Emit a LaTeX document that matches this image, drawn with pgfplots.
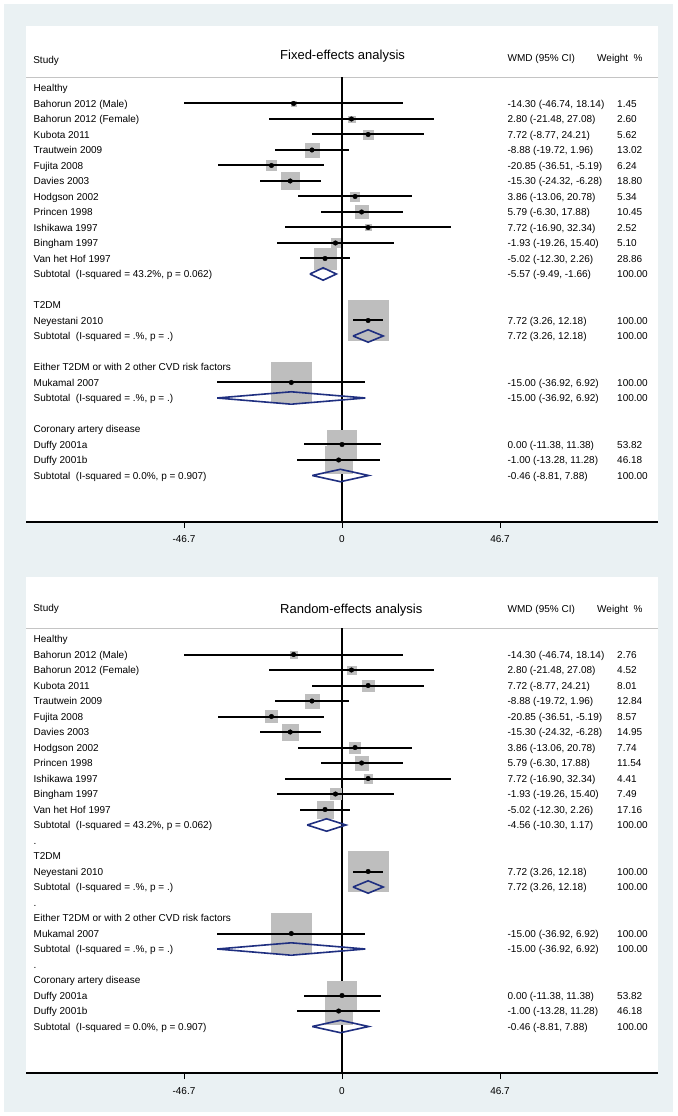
\documentclass[border=0pt]{standalone}
\usepackage{fontspec}
\setmainfont{Liberation Sans}
\usepackage{pgfplots}
\usepackage{pgfplotstable}
\pgfplotsset{compat=1.18}

\definecolor{bgc}{HTML}{EAF1F3}
\definecolor{boxgray}{HTML}{BEBEBE}
\definecolor{sepgray}{HTML}{C4C4C4}
\definecolor{dnavy}{HTML}{1F2F80}

% row = line number from "Healthy" (0) downwards
\pgfplotstableread{
row est lo hi w
1 -14.30 -46.74 18.14 1.45
2 2.80 -21.48 27.08 2.60
3 7.72 -8.77 24.21 5.62
4 -8.88 -19.72 1.96 13.02
5 -20.85 -36.51 -5.19 6.24
6 -15.30 -24.32 -6.28 18.80
7 3.86 -13.06 20.78 5.34
8 5.79 -6.30 17.88 10.45
9 7.72 -16.90 32.34 2.52
10 -1.93 -19.26 15.40 5.10
11 -5.02 -12.30 2.26 28.86
15 7.72 3.26 12.18 100
19 -15.00 -36.92 6.92 100
23 0.00 -11.38 11.38 53.82
24 -1.00 -13.28 11.28 46.18
}\fixeddata

\pgfplotstableread{
row est lo hi w
1 -14.30 -46.74 18.14 2.76
2 2.80 -21.48 27.08 4.52
3 7.72 -8.77 24.21 8.01
4 -8.88 -19.72 1.96 12.84
5 -20.85 -36.51 -5.19 8.57
6 -15.30 -24.32 -6.28 14.95
7 3.86 -13.06 20.78 7.74
8 5.79 -6.30 17.88 11.54
9 7.72 -16.90 32.34 4.41
10 -1.93 -19.26 15.40 7.49
11 -5.02 -12.30 2.26 17.16
15 7.72 3.26 12.18 100
19 -15.00 -36.92 6.92 100
23 0.00 -11.38 11.38 53.82
24 -1.00 -13.28 11.28 46.18
}\randomdata

\newcommand\fs{\fontsize{10}{12}\selectfont}
\tikzset{txt/.style={anchor=base west,inner sep=0pt,font=\fs,yshift=-3.6pt}}
\newcommand\rowtxt[4]{%
  \node[txt] at (axis cs:-91.18,-#1) {#2};
  \node[txt] at (axis cs:48.9,-#1) {#3};
  \node[txt] at (axis cs:81.28,-#1) {#4};}

\pgfplotsset{forest/.style={
  set layers=standard,
  anchor=south west,scale only axis,width=632pt,height=496pt,
  xmin=-93.4,xmax=93.4,ymin=-28,ymax=4,
  axis x line*=bottom,axis y line=none,ytick=\empty,
  xtick={-46.7,0,46.7},xticklabels={-46.7,0,46.7},
  tick align=outside,major tick length=6pt,
  xtick style={black,line width=1pt},
  axis line style={black,line width=1.1pt,-},
  xticklabel style={font=\fs,anchor=base,yshift=-15pt},
  clip=false},
  diam/.style={dnavy,line width=1.6pt,line join=miter,on layer=axis foreground}}

\newcommand\studies[1]{%
  \addplot[scatter,only marks,mark=square*,draw=boxgray,fill=boxgray,
    mark options={draw=boxgray,fill=boxgray},
    scatter/use mapped color={draw=boxgray,fill=boxgray},
    visualization depends on={2*sqrt(\thisrow{w}) \as \msz},
    scatter/@pre marker code/.append style={/tikz/mark size=\msz}]
    table[x=est,y expr=-\thisrow{row}] {#1};
  \addplot[only marks,mark=*,mark size=2.3pt,black,on layer=axis foreground,
    error bars/.cd,x dir=both,x explicit,error mark=none,
    error bar style={line width=2pt,black}]
    table[x=est,y expr=-\thisrow{row},
      x error plus expr=\thisrow{hi}-\thisrow{est},
      x error minus expr=\thisrow{est}-\thisrow{lo}] {#1};
  \draw[sepgray,line width=1pt] (axis cs:-93.4,0.68) -- (axis cs:93.4,0.68);
  \draw[black,line width=1.2pt] (axis cs:0,0.68) -- (axis cs:0,-28);
  \addplot[diam] coordinates {(3.26,-16) (7.72,-15.6) (12.18,-16) (7.72,-16.4) (3.26,-16)};
  \addplot[diam] coordinates {(-36.92,-20) (-15.00,-19.6) (6.92,-20) (-15.00,-20.4) (-36.92,-20)};
  \addplot[diam] coordinates {(-8.81,-25) (-0.46,-24.6) (7.88,-25) (-0.46,-25.4) (-8.81,-25)};
}

\newcommand\lowerrows{%
  \rowtxt{14}{T2DM}{}{}
  \rowtxt{15}{Neyestani 2010}{7.72 (3.26, 12.18)}{100.00}
  \rowtxt{16}{Subtotal\ \ (I-squared = .\%, p = .)}{7.72 (3.26, 12.18)}{100.00}
  \rowtxt{18}{Either T2DM or with 2 other CVD risk factors}{}{}
  \rowtxt{19}{Mukamal 2007}{-15.00 (-36.92, 6.92)}{100.00}
  \rowtxt{20}{Subtotal\ \ (I-squared = .\%, p = .)}{-15.00 (-36.92, 6.92)}{100.00}
  \rowtxt{22}{Coronary artery disease}{}{}
  \rowtxt{23}{Duffy 2001a}{0.00 (-11.38, 11.38)}{53.82}
  \rowtxt{24}{Duffy 2001b}{-1.00 (-13.28, 11.28)}{46.18}
  \rowtxt{25}{Subtotal\ \ (I-squared = 0.0\%, p = 0.907)}{-0.46 (-8.81, 7.88)}{100.00}
}

\begin{document}
\begin{tikzpicture}

% ---------- fixed effects ----------
\begin{axis}[forest,at={(26pt,-522pt)}]
% page, grey graph region and the two white plot regions (lowest layer)
\begin{pgfonlayer}{axis background}
\fill[white] (axis cs:-101.085,5.677) rectangle (axis cs:99.015,-66.323);
\fill[bgc] (axis cs:-99.90,5.419) rectangle (axis cs:97.83,-66.065);
\fill[white] (axis cs:-93.4,4) rectangle (axis cs:93.4,-28);
\fill[white] (axis cs:-93.4,-31.548) rectangle (axis cs:93.4,-63.548);
\end{pgfonlayer}
\studies{\fixeddata}
\addplot[diam] coordinates {(-9.49,-12) (-5.57,-11.6) (-1.66,-12) (-5.57,-12.4) (-9.49,-12)};
\node[txt] at (axis cs:-91.3,1.81) {Study};
\node[anchor=base west,inner sep=0pt,font=\fontsize{13}{15}\selectfont,yshift=-4.7pt] at (axis cs:-18.33,2.13) {Fixed-effects analysis};
\node[txt] at (axis cs:48.9,1.94) {WMD (95\% CI)};
\node[txt] at (axis cs:75.37,1.94) {Weight\ \ \%};
\rowtxt{0}{Healthy}{}{}
\rowtxt{1}{Bahorun 2012 (Male)}{-14.30 (-46.74, 18.14)}{1.45}
\rowtxt{2}{Bahorun 2012 (Female)}{2.80 (-21.48, 27.08)}{2.60}
\rowtxt{3}{Kubota 2011}{7.72 (-8.77, 24.21)}{5.62}
\rowtxt{4}{Trautwein 2009}{-8.88 (-19.72, 1.96)}{13.02}
\rowtxt{5}{Fujita 2008}{-20.85 (-36.51, -5.19)}{6.24}
\rowtxt{6}{Davies 2003}{-15.30 (-24.32, -6.28)}{18.80}
\rowtxt{7}{Hodgson 2002}{3.86 (-13.06, 20.78)}{5.34}
\rowtxt{8}{Princen 1998}{5.79 (-6.30, 17.88)}{10.45}
\rowtxt{9}{Ishikawa 1997}{7.72 (-16.90, 32.34)}{2.52}
\rowtxt{10}{Bingham 1997}{-1.93 (-19.26, 15.40)}{5.10}
\rowtxt{11}{Van het Hof 1997}{-5.02 (-12.30, 2.26)}{28.86}
\rowtxt{12}{Subtotal\ \ (I-squared = 43.2\%, p = 0.062)}{-5.57 (-9.49, -1.66)}{100.00}
\lowerrows
\end{axis}

% ---------- random effects ----------
\begin{axis}[forest,at={(26pt,-1073pt)}]
\studies{\randomdata}
\addplot[diam] coordinates {(-10.30,-12) (-4.56,-11.6) (1.17,-12) (-4.56,-12.4) (-10.30,-12)};
\node[txt] at (axis cs:-91.3,2.0) {Study};
\node[anchor=base west,inner sep=0pt,font=\fontsize{13}{15}\selectfont,yshift=-4.7pt] at (axis cs:-18.33,1.94) {Random-effects analysis};
\node[txt] at (axis cs:48.9,1.94) {WMD (95\% CI)};
\node[txt] at (axis cs:75.37,1.94) {Weight\ \ \%};
\rowtxt{0}{Healthy}{}{}
\rowtxt{1}{Bahorun 2012 (Male)}{-14.30 (-46.74, 18.14)}{2.76}
\rowtxt{2}{Bahorun 2012 (Female)}{2.80 (-21.48, 27.08)}{4.52}
\rowtxt{3}{Kubota 2011}{7.72 (-8.77, 24.21)}{8.01}
\rowtxt{4}{Trautwein 2009}{-8.88 (-19.72, 1.96)}{12.84}
\rowtxt{5}{Fujita 2008}{-20.85 (-36.51, -5.19)}{8.57}
\rowtxt{6}{Davies 2003}{-15.30 (-24.32, -6.28)}{14.95}
\rowtxt{7}{Hodgson 2002}{3.86 (-13.06, 20.78)}{7.74}
\rowtxt{8}{Princen 1998}{5.79 (-6.30, 17.88)}{11.54}
\rowtxt{9}{Ishikawa 1997}{7.72 (-16.90, 32.34)}{4.41}
\rowtxt{10}{Bingham 1997}{-1.93 (-19.26, 15.40)}{7.49}
\rowtxt{11}{Van het Hof 1997}{-5.02 (-12.30, 2.26)}{17.16}
\rowtxt{12}{Subtotal\ \ (I-squared = 43.2\%, p = 0.062)}{-4.56 (-10.30, 1.17)}{100.00}
\rowtxt{13}{.}{}{}
\rowtxt{17}{.}{}{}
\rowtxt{21}{.}{}{}
\lowerrows
\end{axis}
\end{tikzpicture}
\end{document}
